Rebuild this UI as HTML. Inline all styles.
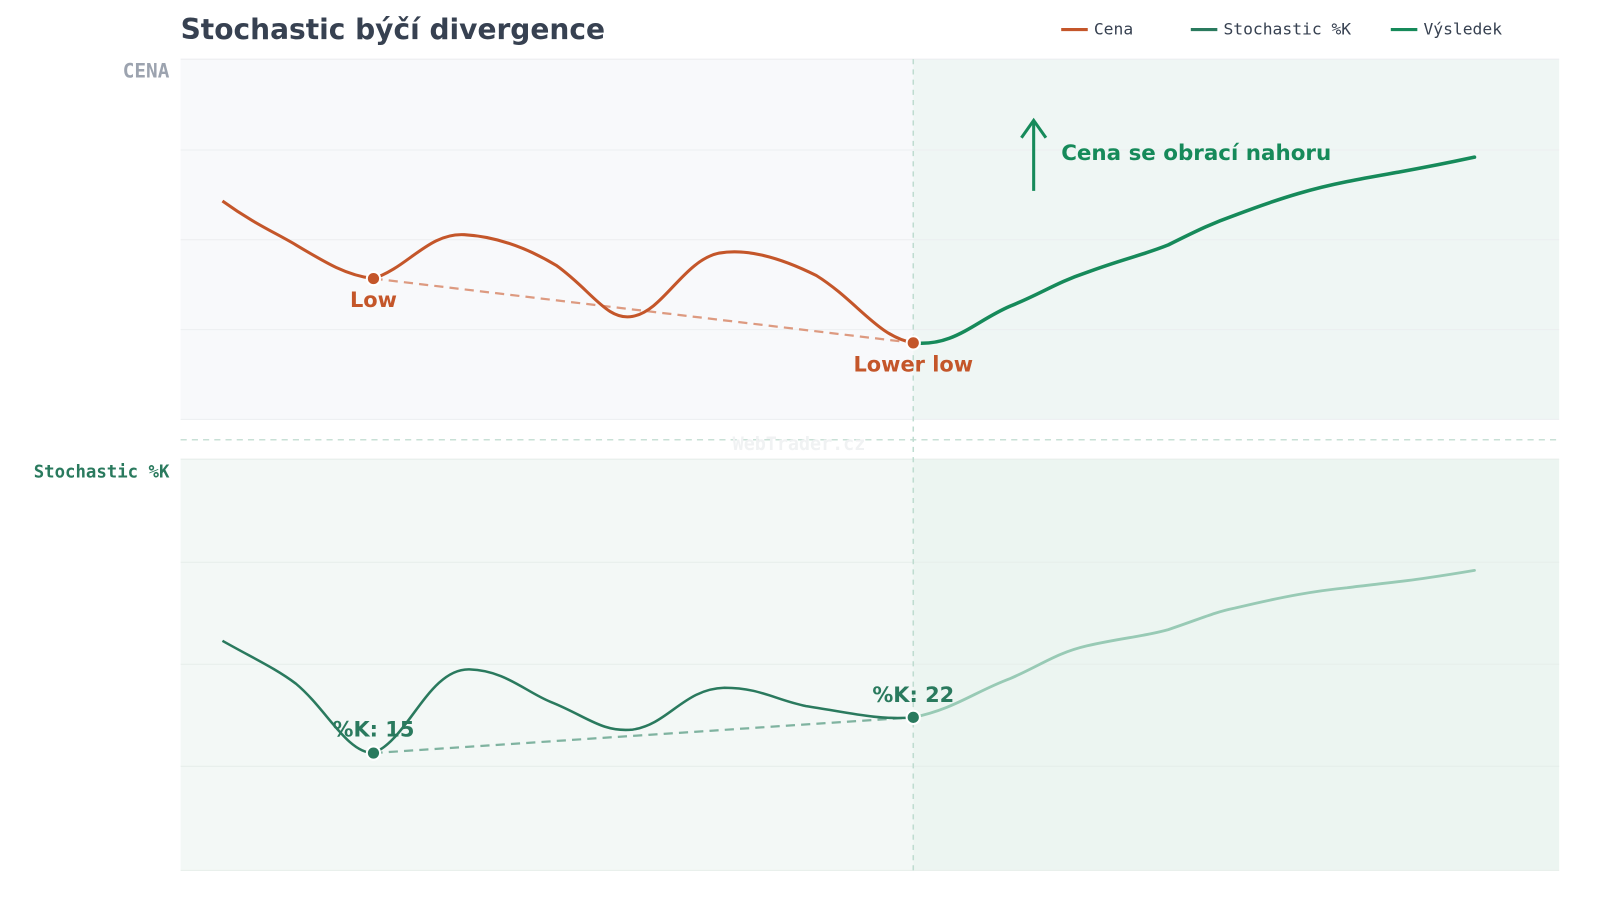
<!DOCTYPE html>
<html><head><meta charset="utf-8"><style>
html,body{margin:0;padding:0;background:#fff;}
svg{display:block;}
text{font-family:"DejaVu Sans","Liberation Sans",sans-serif;}
.mono{font-family:"DejaVu Sans Mono","Liberation Mono",monospace;}
</style></head><body>
<svg width="1600" height="900" viewBox="0 0 1600 900" xmlns="http://www.w3.org/2000/svg">
<rect width="1600" height="900" fill="#fff"/>
<g transform="scale(1.0204)">
<text x="177" y="38" font-size="27.5" font-weight="bold" fill="#374151">Stochastic býčí divergence</text>
<line x1="1040" y1="29" x2="1066" y2="29" stroke="#c4562a" stroke-width="3"/>
<text x="1072" y="34" class="mono" font-size="16" fill="#374151">Cena</text>
<line x1="1167" y1="29" x2="1193" y2="29" stroke="#2a7a5e" stroke-width="3"/>
<text x="1199" y="34" class="mono" font-size="16" fill="#374151">Stochastic %K</text>
<line x1="1363" y1="29" x2="1389" y2="29" stroke="#168a5a" stroke-width="3"/>
<text x="1395" y="34" class="mono" font-size="16" fill="#374151">Výsledek</text>
<rect x="177" y="58" width="718" height="353" fill="#f8f9fb"/>
<rect x="895" y="58" width="633" height="353" fill="#eff6f4"/>
<g stroke="#eceef0" stroke-width="1">
<line x1="177" y1="58" x2="1528" y2="58"/><line x1="177" y1="147" x2="1528" y2="147"/>
<line x1="177" y1="235" x2="1528" y2="235"/><line x1="177" y1="323" x2="1528" y2="323"/>
<line x1="177" y1="411" x2="1528" y2="411"/></g>
<text x="166" y="76" text-anchor="end" class="mono" font-size="19" font-weight="bold" fill="#9ca3af">CENA</text>
<rect x="177" y="450" width="718" height="403" fill="#f3f8f6"/>
<rect x="895" y="450" width="633" height="403" fill="#ecf5f1"/>
<g stroke="#e6eeea" stroke-width="1">
<line x1="177" y1="450" x2="1528" y2="450"/><line x1="177" y1="551" x2="1528" y2="551"/>
<line x1="177" y1="651" x2="1528" y2="651"/><line x1="177" y1="751" x2="1528" y2="751"/>
<line x1="177" y1="853" x2="1528" y2="853"/></g>
<text x="166" y="468" text-anchor="end" class="mono" font-size="17" font-weight="bold" fill="#2a7a5e">Stochastic %K</text>
<line x1="177" y1="431" x2="1528" y2="431" stroke="#c8e0d6" stroke-width="1.5" stroke-dasharray="6,5"/>
<text x="783" y="441" text-anchor="middle" class="mono" font-size="18" font-weight="bold" fill="#f0f2f3">WebTrader.cz</text>
<line x1="895" y1="58" x2="895" y2="853" stroke="#bfdcd0" stroke-width="1.5" stroke-dasharray="5,5"/>
<line x1="366" y1="273" x2="895" y2="336" stroke="#dd9a80" stroke-width="2.2" stroke-dasharray="9,6"/>
<path d="M218,197 C250,220 270,228 290,240 C320,258 340,270 366,273 C400,262 420,228 455,230 C490,232 520,245 545,260 C580,285 595,315 620,310 C650,305 670,255 705,248 C740,242 780,260 800,270 C840,295 860,330 895,336" fill="none" stroke="#c4562a" stroke-width="3"/>
<path d="M895,336 C935,340 955,315 990,300 C1020,288 1035,277 1065,267 C1100,254 1120,250 1145,240 C1175,225 1190,218 1210,211 C1260,192 1290,184 1320,178 C1360,170 1380,168 1445,154" fill="none" stroke="#168a5a" stroke-width="3.5" stroke-linecap="round"/>
<circle cx="366" cy="273" r="6.5" fill="#c4562a" stroke="#fff" stroke-width="2"/>
<circle cx="895" cy="336" r="6.5" fill="#c4562a" stroke="#fff" stroke-width="2"/>
<text x="366" y="301" text-anchor="middle" font-size="20.5" font-weight="bold" fill="#c4562a">Low</text>
<text x="895" y="364" text-anchor="middle" font-size="20.5" font-weight="bold" fill="#c4562a">Lower low</text>
<line x1="1013" y1="187" x2="1013" y2="119" stroke="#168a5a" stroke-width="3"/>
<polyline points="1001,135 1013,118 1025,135" fill="none" stroke="#168a5a" stroke-width="3"/>
<text x="1040" y="157" font-size="21" font-weight="bold" fill="#168a5a">Cena se obrací nahoru</text>
<line x1="366" y1="738" x2="895" y2="703" stroke="#7fb3a0" stroke-width="2.2" stroke-dasharray="9,6"/>
<path d="M218,628 C250,646 270,655 290,670 C320,695 340,738 366,738 C400,725 420,655 460,656 C495,657 515,678 540,688 C575,702 590,718 620,715 C655,710 670,675 710,674 C745,674 760,686 790,692 C830,698 860,706 895,703" fill="none" stroke="#2a7a5e" stroke-width="2.5"/>
<path d="M895,703 C935,695 955,678 990,665 C1020,652 1035,640 1065,633 C1100,625 1120,624 1145,617 C1175,607 1190,600 1210,596 C1260,584 1290,579 1320,576 C1360,571 1380,570 1445,559" fill="none" stroke="#98cab5" stroke-width="2.8" stroke-linecap="round"/>
<circle cx="366" cy="738" r="6.5" fill="#2a7a5e" stroke="#fff" stroke-width="2"/>
<circle cx="895" cy="703" r="6.5" fill="#2a7a5e" stroke="#fff" stroke-width="2"/>
<text x="366" y="722" text-anchor="middle" font-size="20.5" font-weight="bold" fill="#2a7a5e">%K: 15</text>
<text x="895" y="688" text-anchor="middle" font-size="20.5" font-weight="bold" fill="#2a7a5e">%K: 22</text>
</g>
</svg>
</body></html>
